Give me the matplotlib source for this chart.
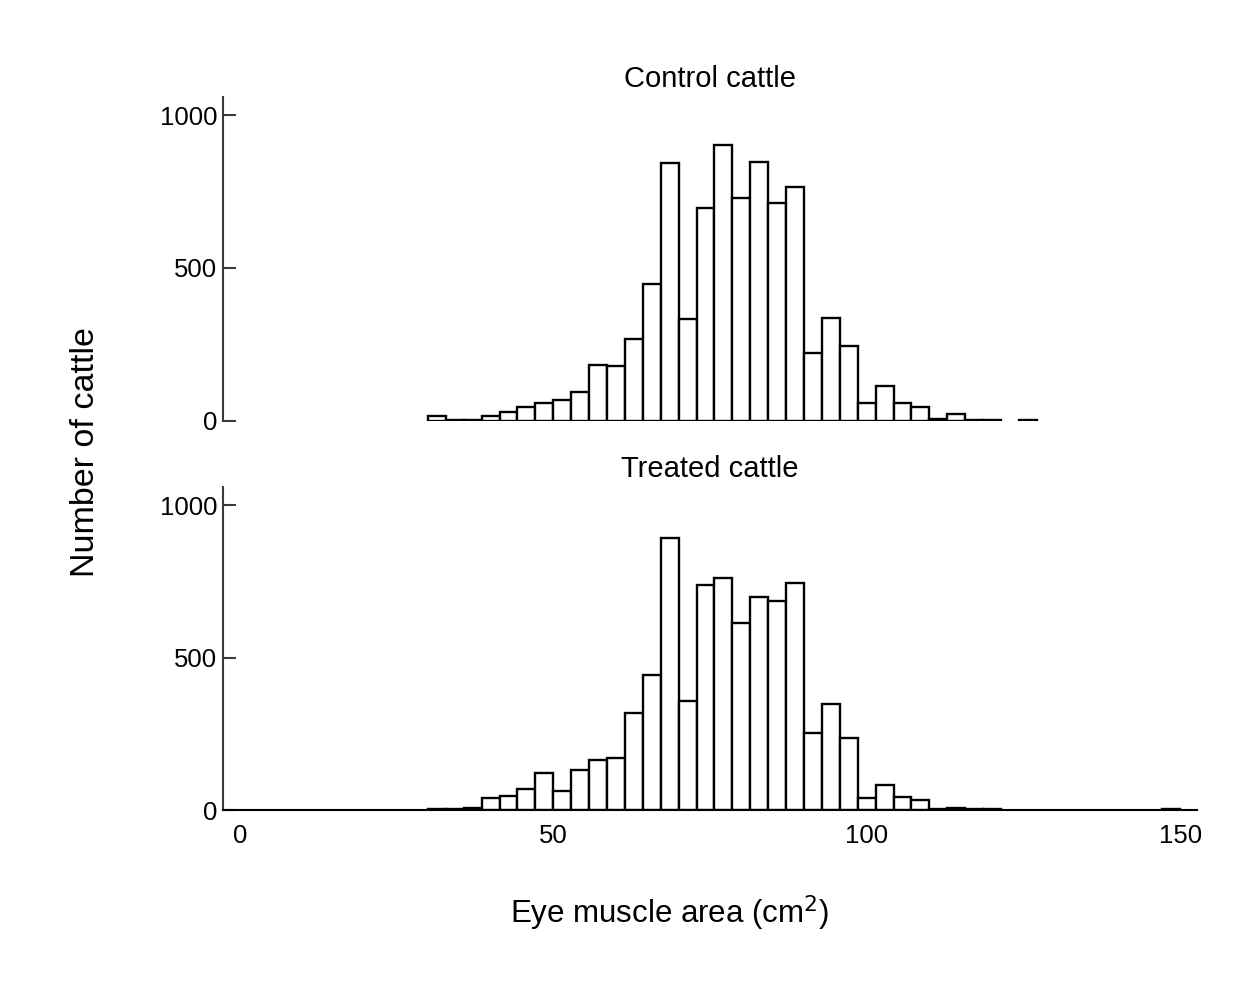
import numpy as np
import matplotlib
matplotlib.use("Agg")
import matplotlib.pyplot as plt

plt.rcParams["font.family"] = ["Liberation Sans", "DejaVu Sans"]

# Histogram bins: 42 equal bins spanning 30-150 cm^2
bin_start = 30.0
bin_stop = 150.0
n_bins = 42

control_counts = [15, 3, 3, 17, 30, 44, 59, 68, 95, 182, 180, 267, 446, 842,
                  333, 695, 902, 727, 845, 713, 766, 220, 335, 244, 59, 113,
                  59, 44, 5, 22, 3, 3, 0, 3, 0, 0, 0, 0, 0, 0, 0, 0]
treated_counts = [2, 2, 5, 38, 46, 69, 120, 63, 131, 164, 171, 319, 444, 892,
                  359, 740, 761, 613, 700, 687, 744, 253, 348, 236, 39, 83,
                  44, 33, 3, 5, 2, 3, 0, 0, 0, 0, 0, 0, 0, 0, 0, 3]

panel_titles = ["Control cattle", "Treated cattle"]
x_ticks = [0, 50, 100, 150]
y_ticks = [0, 500, 1000]
x_label = "Eye muscle area (cm$^{2}$)"
y_label = "Number of cattle"

edges = np.linspace(bin_start, bin_stop, n_bins + 1)
width = edges[1] - edges[0]

W, H = 1234, 997
fig = plt.figure(figsize=(W / 100, H / 100), dpi=100)

left = 223 / W
right = 1197 / W
ax_top = fig.add_axes([left, 1 - 420.7 / H, right - left, (420.7 - 96.7) / H])
ax_bot = fig.add_axes([left, 1 - 810 / H, right - left, (810 - 487) / H])

spine_color = "#3a3a3a"
tick_fs = 18.5

for ax, counts, title in zip([ax_top, ax_bot], [control_counts, treated_counts], panel_titles):
    counts = np.asarray(counts, dtype=float)
    mask = counts > 0
    ax.bar(edges[:-1][mask], counts[mask], width=width, align="edge",
           facecolor="white", edgecolor="black", linewidth=1.7)
    ax.set_xlim(-2.7, 152.7)
    ax.set_ylim(0, 1060)
    ax.set_yticks(y_ticks)
    ax.set_yticklabels([str(v) for v in y_ticks], fontsize=tick_fs)
    ax.tick_params(axis="y", direction="in", length=9, width=1.5,
                   color=spine_color, pad=4)
    for s in ["top", "right"]:
        ax.spines[s].set_visible(False)
    ax.spines["left"].set_color(spine_color)
    ax.spines["left"].set_linewidth(1.5)
    ax.set_title(title, fontsize=21, pad=7)

# Top panel: no x axis line or labels
ax_top.spines["bottom"].set_visible(False)
ax_top.set_xticks([])

# Bottom panel x axis
ax_bot.spines["bottom"].set_color("black")
ax_bot.spines["bottom"].set_linewidth(1.5)
ax_bot.set_xticks(x_ticks)
ax_bot.set_xticklabels([str(v) for v in x_ticks], fontsize=tick_fs)
ax_bot.tick_params(axis="x", length=0, pad=10)

fig.text(670 / W, 1 - 913 / H, x_label, fontsize=22.5, ha="center", va="center")
fig.text(85 / W, 1 - 452 / H, y_label, fontsize=24.5, ha="center", va="center",
         rotation=90)

fig.savefig("out.png", dpi=100, facecolor="white")
